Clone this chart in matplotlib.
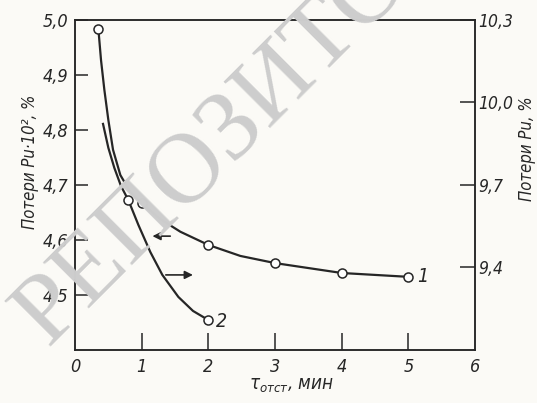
import numpy as np
import matplotlib
matplotlib.use('Agg')
import matplotlib.pyplot as plt

# curve 1 (left axis, losses Pu*10^2, %)
t1 = [0.35, 0.39, 0.44, 0.50, 0.57, 0.68, 0.83, 1.00, 1.28, 1.58, 2.00, 2.48, 3.00, 4.00, 5.00]
p1 = [4.984, 4.927, 4.873, 4.818, 4.764, 4.718, 4.687, 4.667, 4.638, 4.615, 4.591, 4.571, 4.558, 4.540, 4.533]
marks1 = [0, 7, 10, 12, 13, 14]

# curve 2 (right axis, losses Pu, %)
t2 = [0.42, 0.50, 0.59, 0.69, 0.80, 0.95, 1.13, 1.31, 1.55, 1.77, 2.00]
p2 = [9.922, 9.835, 9.762, 9.696, 9.645, 9.555, 9.456, 9.373, 9.293, 9.242, 9.209]
marks2 = [4, 10]

xticks = [0, 1, 2, 3, 4, 5, 6]
xlabels = ['0', '1', '2', '3', '4', '5', '6']
lticks = [4.5, 4.6, 4.7, 4.8, 4.9, 5.0]
llabels = ['4,5', '4,6', '4,7', '4,8', '4,9', '5,0']
rticks = [9.4, 9.7, 10.0, 10.3]
rlabels = ['9,4', '9,7', '10,0', '10,3']

ink = '#262626'
paper = '#fbfaf6'

plt.rcParams['font.family'] = ['DejaVu Sans']
plt.rcParams['font.style'] = 'italic'
plt.rcParams['font.stretch'] = 'condensed'
plt.rcParams['mathtext.fontset'] = 'dejavusans'

fig = plt.figure(figsize=(5.37, 4.03), dpi=100, facecolor=paper)

# watermark
fig.text(0.527, 0.809, 'РЕПОЗИТОРИЙ', family='Liberation Serif', style='normal',
         fontsize=72, color='#cdcdcd', rotation=45, ha='center', va='center', zorder=0)

ax = fig.add_axes([0.1397, 0.1315, 0.7449, 0.819])
ax.patch.set_alpha(0)
ax2 = ax.twinx()

ax.plot(t1, p1, '-', color=ink, lw=1.6, marker='o', markevery=marks1,
        ms=6.5, mfc='white', mec=ink, mew=1.1, zorder=3)
ax2.plot(t2, p2, '-', color=ink, lw=1.6, marker='o', markevery=marks2,
         ms=6.5, mfc='white', mec=ink, mew=1.1, zorder=3)

ax.set_xlim(0, 6)
ax.set_ylim(4.4, 5.0)
ax2.set_ylim(9.1, 10.3)

ax.set_xticks(xticks[1:-1])
ax.set_xticklabels(xlabels[1:-1])
ax.set_yticks(lticks)
ax.set_yticklabels(llabels)
ax2.set_yticks(rticks)
ax2.set_yticklabels(rlabels)

for a in (ax, ax2):
    for s in a.spines.values():
        s.set_color(ink)
        s.set_linewidth(1.1)
ax.tick_params(axis='y', direction='in', length=9.5, width=1.1, color=ink,
               labelsize=13, pad=5, labelcolor=ink)
ax.tick_params(axis='x', direction='in', length=12, width=1.1, color=ink,
               labelsize=13, pad=6, labelcolor=ink)
ax2.tick_params(axis='y', direction='in', length=11, width=1.1, color=ink,
                labelsize=12.5, pad=2.5, labelcolor=ink)

# 0 and 6 at the ends of the x axis
for i in (0, -1):
    ax.text(xticks[i], -0.025, xlabels[i], transform=ax.get_xaxis_transform(),
            ha='center', va='top', fontsize=13, color=ink)

ax.set_ylabel('Потери Pu·10², %', fontsize=12, color=ink)
ax.yaxis.set_label_coords(-0.09, 0.57)
ax2.set_ylabel('Потери Pu, %', fontsize=12, color=ink, rotation=90)
ax2.yaxis.set_label_coords(1.108, 0.61)
ax.set_xlabel(r'$\tau_{отст}$, мин', fontsize=13.5, color=ink)
ax.xaxis.set_label_coords(0.54, -0.08)

# arrows pointing to the axis of each curve
ax.annotate('', xy=(1.12, 4.607), xytext=(1.47, 4.607),
            arrowprops=dict(arrowstyle='-|>', color=ink, lw=1.2, mutation_scale=12))
ax2.annotate('', xy=(1.81, 9.373), xytext=(1.32, 9.373),
             arrowprops=dict(arrowstyle='-|>', color=ink, lw=1.2, mutation_scale=12))

ax.text(5.13, 4.533, '1', fontsize=14, color=ink, va='center')
ax2.text(2.12, 9.205, '2', fontsize=14, color=ink, va='center')

fig.savefig('out.png', dpi=100, facecolor=paper)
